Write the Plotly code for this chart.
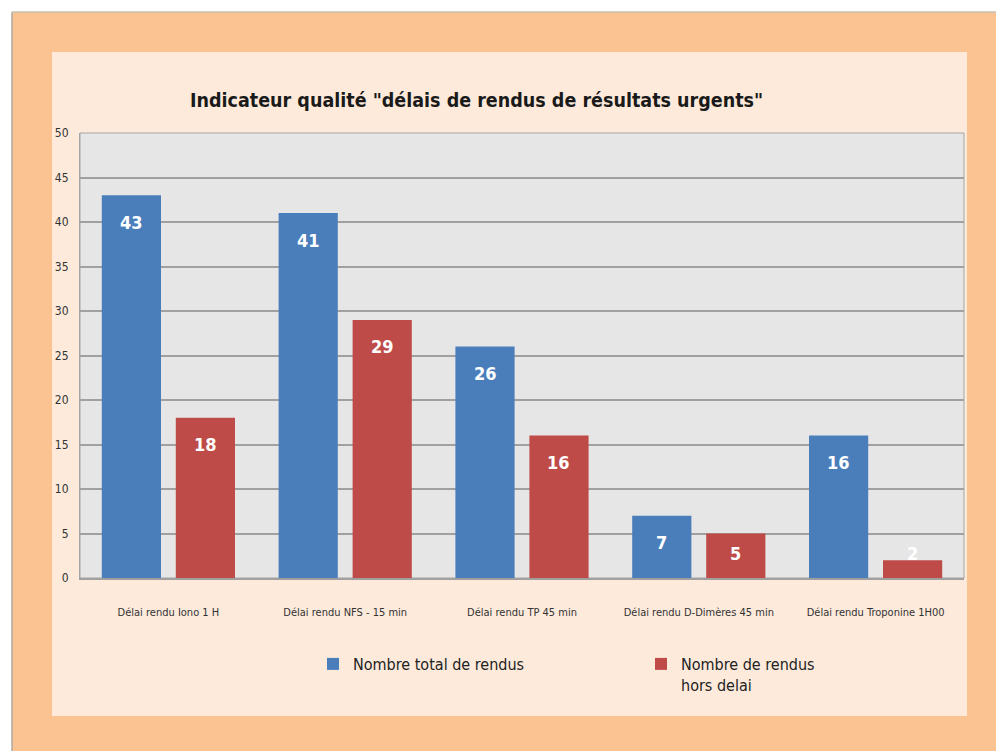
import plotly.graph_objects as go

categories = ["Délai rendu Iono 1 H", "Délai rendu NFS - 15 min", "Délai rendu TP 45 min",
              "Délai rendu D-Dimères 45 min", "Délai rendu Troponine 1H00"]
total_rendus = [43, 41, 26, 7, 16]
hors_delai = [18, 29, 16, 5, 2]
series_names = ["Nombre total de rendus", "Nombre de rendus<br>hors delai"]
title_text = 'Indicateur qualité "délais de rendus de résultats urgents"'

W, H = 996, 751
ML, MR, MT, MB = 80, 32, 133, 173
PW, PH = W - ML - MR, H - MT - MB
YMAX = 50
BARGAP, BARGROUPGAP = 0.163, 0.2
FONT = "DejaVu Sans Condensed, sans-serif"

def px_x(p):
    return (p - ML) / PW

def px_y(p):
    return (H - MB - p) / PH

blue, red = "#4A7EBB", "#BE4B48"

fig = go.Figure()
fig.add_trace(go.Bar(x=categories, y=total_rendus, name=series_names[0], marker_color=blue,
                     marker_line_width=0))
fig.add_trace(go.Bar(x=categories, y=hors_delai, name=series_names[1], marker_color=red,
                     marker_line_width=0))

# data labels
ppu = PH / YMAX
slot = PW / len(categories) * (1 - BARGAP) / 2
ann = []
for vals, dx in ((total_rendus, -slot / 2), (hors_delai, slot / 2)):
    for c, v in zip(categories, vals):
        shift = -min(27, v * ppu - 25)
        ann.append(dict(x=c, y=v, xref="x", yref="y", text="<b>" + str(v) + "</b>", showarrow=False,
                        xshift=dx, yshift=shift, yanchor="middle",
                        font=dict(family=FONT, size=18, color="white")))
ann.append(dict(x=px_x(476), y=px_y(100), xref="paper", yref="paper", text="<b>" + title_text + "</b>",
                showarrow=False, xanchor="center", yanchor="middle",
                font=dict(family=FONT, size=19.5, color="#1a1a1a")))

shapes = [
    dict(type="rect", xref="paper", yref="paper", x0=px_x(12), x1=px_x(1000), y0=px_y(12), y1=px_y(755),
         fillcolor="#FBC292", line=dict(width=0), layer="below"),
    dict(type="line", xref="paper", yref="paper", x0=px_x(12), x1=px_x(12), y0=px_y(12), y1=px_y(755),
         line=dict(color="#B0A8A0", width=1.5), layer="below"),
    dict(type="line", xref="paper", yref="paper", x0=px_x(12), x1=px_x(1000), y0=px_y(12), y1=px_y(12),
         line=dict(color="#C8C0B0", width=1.5), layer="below"),
    dict(type="rect", xref="paper", yref="paper", x0=px_x(52), x1=px_x(967), y0=px_y(52), y1=px_y(716),
         fillcolor="#FDEADB", line=dict(width=0), layer="below"),
    dict(type="rect", xref="paper", yref="paper", x0=0, x1=1, y0=0, y1=1,
         fillcolor="#E6E6E6", line=dict(color="#A6A6A6", width=1), layer="below"),
]

fig.update_layout(
    width=W, height=H,
    margin=dict(l=ML, r=MR, t=MT, b=MB),
    paper_bgcolor="white", plot_bgcolor="#E6E6E6",
    barmode="group", bargap=BARGAP, bargroupgap=BARGROUPGAP,
    shapes=shapes, annotations=ann,
    font=dict(family=FONT, color="#333333"),
    legend=dict(orientation="h", x=px_x(313), y=px_y(647), xanchor="left", yanchor="top",
                bgcolor="rgba(0,0,0,0)", valign="top", entrywidth=283,
                font=dict(family=FONT, size=16, color="#222222"), itemwidth=30),
    showlegend=True,
)
fig.update_yaxes(range=[0, YMAX], dtick=5, showgrid=True, gridcolor="#A0A0A0", gridwidth=1.5,
                 zeroline=False, showline=True, linecolor="#A6A6A6", ticks="", ticklabelstandoff=8,
                 tickfont=dict(family=FONT, size=12, color="#333333"), fixedrange=True)
fig.update_xaxes(showline=True, linecolor="#A0A0A0", linewidth=1.5, ticks="",
                 tickfont=dict(family=FONT, size=11, color="#333333"), ticklabelstandoff=23)

fig.write_html("out.html", config={"displayModeBar": False},
               post_script="document.body.style.margin='0';document.body.style.overflow='hidden';")
